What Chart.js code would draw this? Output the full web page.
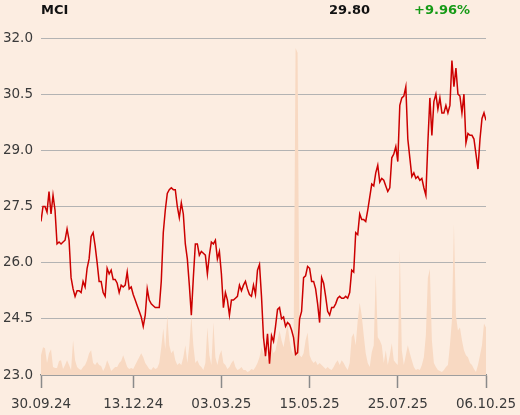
<!DOCTYPE html>
<html>
<head>
<meta charset="utf-8">
<script src="https://cdn.jsdelivr.net/npm/chart.js@4.4.1/dist/chart.umd.min.js"></script>
<style>
    html, body { margin: 0; padding: 0; background: #fcede1; }
    #wrap { position: relative; width: 520px; height: 415px; }
    #price-chart { position: absolute; left: 0; top: 0; }
    .hdr { position: absolute; top: 2px; font: bold 13px "DejaVu Sans", sans-serif; line-height: 16px; color: #111; white-space: nowrap; }
    #hdr-change { color: #169a16; }
</style>
</head>
<body>
<div id="wrap">
    <canvas id="price-chart" width="520" height="415"></canvas>
    <div class="hdr" id="hdr-symbol" style="left:41px"></div>
    <div class="hdr" id="hdr-last" style="right:150px"></div>
    <div class="hdr" id="hdr-change" style="right:50px"></div>
</div>
<script>
const symbol = 'MCI';
const lastPrice = '29.80';
const changePct = '+9.96%';

// Closing prices, one entry per sample along the x axis
const prices = [
    27.1, 27.5, 27.5, 27.35, 27.9, 27.3, 27.8, 27.4, 26.5, 26.55,
    26.5, 26.55, 26.6, 26.9, 26.6, 25.6, 25.3, 25.1, 25.25, 25.25,
    25.2, 25.5, 25.35, 25.85, 26.1, 26.7, 26.8, 26.45, 26.0, 25.5,
    25.5, 25.2, 25.1, 25.85, 25.7, 25.8, 25.55, 25.55, 25.45, 25.2,
    25.4, 25.35, 25.4, 25.75, 25.3, 25.35, 25.15, 25.0, 24.85, 24.7,
    24.55, 24.3, 24.6, 25.3, 25.0, 24.9, 24.85, 24.8, 24.8, 24.8,
    25.5, 26.8, 27.4, 27.85, 27.95, 28.0, 27.95, 27.95, 27.5, 27.2,
    27.6, 27.3, 26.5, 26.1, 25.4, 24.6, 25.6, 26.5, 26.5, 26.2,
    26.3, 26.25, 26.2, 25.7, 26.2, 26.55, 26.5, 26.6, 26.1, 26.3,
    25.7, 24.8, 25.2, 25.0, 24.6, 25.0, 25.0, 25.05, 25.1, 25.4,
    25.25, 25.4, 25.5, 25.3, 25.15, 25.1, 25.4, 25.15, 25.8, 25.95,
    25.1, 24.0, 23.5, 24.1, 23.3, 24.05, 23.9, 24.3, 24.75, 24.8,
    24.5, 24.55, 24.3, 24.4, 24.35, 24.2, 24.0, 23.55, 23.6, 24.5,
    24.7, 25.6, 25.65, 25.9, 25.85, 25.5, 25.5, 25.3, 24.9, 24.4,
    25.6, 25.45, 25.1, 24.7, 24.6, 24.8, 24.8, 24.9, 25.05, 25.1,
    25.05, 25.05, 25.1, 25.05, 25.2, 25.8, 25.75, 26.8, 26.75, 27.3,
    27.15, 27.15, 27.1, 27.4, 27.75, 28.1, 28.05, 28.4, 28.6, 28.15,
    28.25, 28.2, 28.05, 27.9, 28.0, 28.8, 28.9, 29.1, 28.7, 30.2,
    30.4, 30.45, 30.7, 29.3, 28.8, 28.3, 28.4, 28.25, 28.3, 28.2,
    28.25, 28.0, 27.8, 29.2, 30.4, 29.4, 30.3, 30.5, 30.1, 30.4,
    30.0, 30.0, 30.2, 30.0, 30.2, 31.4, 30.7, 31.2, 30.5, 30.45,
    30.0, 30.5, 29.2, 29.45, 29.4, 29.4, 29.3, 28.9, 28.5, 29.3,
    29.85, 30.0, 29.8
];

// Traded volume (relative units) for the same samples
const volumes = [
    20, 28, 27, 12, 22, 26, 8, 7, 7, 14,
    15, 6, 10, 15, 10, 5, 35, 15, 8, 6,
    5, 8, 10, 15, 22, 25, 12, 10, 13, 10,
    9, 4, 8, 15, 10, 4, 6, 8, 8, 12,
    14, 20, 14, 8, 6, 7, 6, 10, 14, 18,
    22, 18, 12, 9, 6, 5, 8, 6, 7, 12,
    28, 47, 26, 60, 30, 22, 25, 15, 10, 12,
    10, 18, 30, 12, 30, 60, 30, 12, 15, 10,
    8, 5, 12, 48, 20, 10, 53, 18, 10, 20,
    25, 12, 10, 6, 8, 12, 15, 8, 5, 6,
    8, 5, 5, 3, 4, 6, 5, 8, 12, 18,
    28, 22, 20, 15, 20, 30, 22, 25, 35, 45,
    35, 28, 40, 52, 35, 25, 20, 330, 325, 20,
    18, 22, 35, 43, 20, 15, 12, 14, 10, 12,
    10, 8, 6, 8, 6, 5, 8, 12, 15, 10,
    15, 12, 8, 5, 12, 38, 42, 30, 55, 73,
    60, 40, 22, 12, 8, 23, 30, 102, 38, 35,
    30, 12, 25, 10, 20, 32, 15, 12, 10, 127,
    25, 10, 20, 30, 22, 15, 8, 5, 6, 5,
    10, 18, 40, 98, 107, 35, 12, 8, 5, 4,
    3, 5, 8, 10, 30, 55, 152, 60, 45, 48,
    35, 25, 20, 18, 12, 10, 6, 3, 10, 20,
    30, 52, 48
];

// Date ticks and the sample index they sit on
const xTickIndex = [0, 46, 90, 134, 178, 222];
const xTickLabels = ['30.09.24', '13.12.24', '03.03.25', '15.05.25', '25.07.25', '06.10.25'];

const yMin = 23.0;
const yMax = 32.0;
const yStep = 1.5;

class PriceChart {
    constructor() {
        this.chart = null;
    }

    init() {
        document.getElementById('hdr-symbol').textContent = symbol;
        document.getElementById('hdr-last').textContent = lastPrice;
        document.getElementById('hdr-change').textContent = changePct;
        this.createChart();
    }

    createChart() {
        const ctx = document.getElementById('price-chart');
        const labels = prices.map((_, i) => i);
        const tickFont = { family: '"DejaVu Sans", sans-serif', size: 13.5 };

        this.chart = new Chart(ctx, {
            type: 'line',
            data: {
                labels: labels,
                datasets: [{
                    label: symbol,
                    data: prices,
                    borderColor: '#cc0000',
                    borderWidth: 1.5,
                    pointRadius: 0,
                    tension: 0,
                    fill: false,
                    yAxisID: 'y'
                }, {
                    label: 'Volume',
                    data: volumes,
                    borderWidth: 0,
                    backgroundColor: '#f8d9c2',
                    pointRadius: 0,
                    tension: 0,
                    fill: 'origin',
                    yAxisID: 'yv'
                }]
            },
            options: {
                responsive: false,
                animation: false,
                events: [],
                layout: {
                    padding: { left: 0, right: 34, top: 38, bottom: 0 }
                },
                plugins: {
                    legend: { display: false },
                    tooltip: { enabled: false }
                },
                scales: {
                    x: {
                        type: 'linear',
                        min: 0,
                        max: prices.length - 1,
                        afterBuildTicks: (scale) => {
                            scale.ticks = xTickIndex.map(v => ({ value: v }));
                        },
                        afterFit: (scale) => {
                            // the end labels may hang over the plot edges
                            scale.height = 40;
                            scale.paddingLeft = 0;
                            scale.paddingRight = 0;
                        },
                        ticks: {
                            autoSkip: false,
                            maxRotation: 0,
                            padding: 8,
                            color: '#3a3a3a',
                            font: tickFont,
                            callback: (value) => {
                                const k = xTickIndex.indexOf(value);
                                return k >= 0 ? xTickLabels[k] : '';
                            }
                        },
                        grid: {
                            drawOnChartArea: false,
                            drawTicks: true,
                            tickLength: 13,
                            tickColor: '#8a8a8a',
                            tickWidth: 1.5
                        },
                        border: { display: true, color: '#8a8a8a', width: 1.5 }
                    },
                    y: {
                        position: 'left',
                        min: yMin,
                        max: yMax,
                        afterFit: (scale) => { scale.width = 41; },
                        ticks: {
                            stepSize: yStep,
                            padding: 8,
                            color: '#3a3a3a',
                            font: tickFont,
                            callback: (value) => value.toFixed(1)
                        },
                        grid: {
                            color: '#b3b3b3',
                            lineWidth: 1,
                            drawTicks: false
                        },
                        border: { display: false }
                    },
                    yv: {
                        display: false,
                        min: 0,
                        max: 340
                    }
                }
            }
        });
    }
}

window.priceChart = new PriceChart();
window.priceChart.init();
</script>
</body>
</html>
